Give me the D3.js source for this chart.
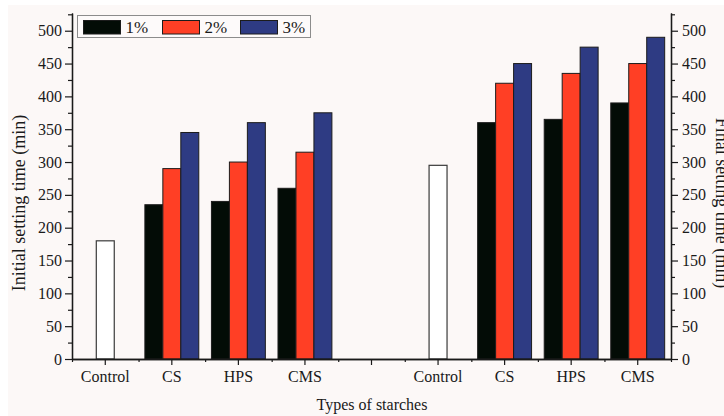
<!DOCTYPE html>
<html>
<head>
<meta charset="utf-8">
<script src="https://cdn.jsdelivr.net/npm/d3@7"></script>
<style>
  html, body { margin: 0; padding: 0; background: #ffffff; }
  svg { display: block; }
</style>
</head>
<body>
<svg id="chart" width="724" height="416"></svg>
<script>
// ---- data ----
const series = ["1%", "2%", "3%"];
const slotLabels = ["Control", "CS", "HPS", "CMS", "", "Control", "CS", "HPS", "CMS"];
const starches = ["CS", "HPS", "CMS"];
const initialControl = 180;
const initial1 = [235, 240, 260];
const initial2 = [290, 300, 315];
const initial3 = [345, 360, 375];
const finalControl = 295;
const final1 = [360, 365, 390];
const final2 = [420, 435, 450];
const final3 = [450, 475, 490];
const yMajorTicks = [0, 50, 100, 150, 200, 250, 300, 350, 400, 450, 500];
const yMinorTicks = [25, 75, 125, 175, 225, 275, 325, 375, 425, 475, 525];
const colors = ["#030c06", "#ff3f25", "#2e3b83"];

// ---- layout ----
const FONT = "'Liberation Serif', 'Times New Roman', serif";
const svg = d3.select("#chart");
const W = 724, H = 416;
const mLeft = 72, mRight = 671, mTop = 13, mBottom = 359;

svg.append("rect").attr("x", 8).attr("y", 5).attr("width", W - 8).attr("height", H - 5)
  .attr("fill", "#fcf8f7");

const x = d3.scaleBand().domain(d3.range(slotLabels.length)).range([mLeft, mRight]).padding(0);
const xEdge = d3.scaleLinear().domain([0, slotLabels.length]).range([mLeft, mRight]);
const yL = d3.scaleLinear().domain([0, 527]).range([mBottom, mTop]);
const yR = d3.scaleLinear().domain([0, 527]).range([mBottom, mTop]);
const barW = x.bandwidth() * 0.27;
const sub = d3.scaleBand().domain(series).range([-1.5 * barW, 1.5 * barW]).padding(0);

const groups = [];
starches.forEach((s, i) => {
  groups.push({ slot: 1 + i, axis: "L", vals: [initial1[i], initial2[i], initial3[i]] });
  groups.push({ slot: 6 + i, axis: "R", vals: [final1[i], final2[i], final3[i]] });
});
const controls = [
  { slot: 0, axis: "L", v: initialControl },
  { slot: 5, axis: "R", v: finalControl }
];

const bars = [];
groups.forEach(g => g.vals.forEach((v, k) => bars.push({ slot: g.slot, axis: g.axis, s: series[k], v, k })));

const barG = svg.append("g");
barG.selectAll("rect.bar").data(bars).enter().append("rect")
  .attr("class", "bar")
  .attr("x", d => x(d.slot) + x.bandwidth() / 2 + sub(d.s))
  .attr("width", sub.bandwidth())
  .attr("y", d => (d.axis === "L" ? yL : yR)(d.v))
  .attr("height", d => mBottom - (d.axis === "L" ? yL : yR)(d.v))
  .attr("fill", d => colors[d.k])
  .attr("stroke", "#1c1c1c").attr("stroke-width", 1);

barG.selectAll("rect.ctrl").data(controls).enter().append("rect")
  .attr("class", "ctrl")
  .attr("x", d => x(d.slot) + x.bandwidth() / 2 - barW / 2)
  .attr("width", barW)
  .attr("y", d => (d.axis === "L" ? yL : yR)(d.v))
  .attr("height", d => mBottom - (d.axis === "L" ? yL : yR)(d.v))
  .attr("fill", "#ffffff")
  .attr("stroke", "#3a3a3a").attr("stroke-width", 1.2);

// ---- axes ----
function styleAxis(g, size) {
  g.attr("font-family", null).attr("font-size", null);
  g.selectAll("path.domain").attr("stroke", "#1a1a1a").attr("stroke-width", 1.3);
  g.selectAll(".tick line").attr("stroke", "#1a1a1a").attr("stroke-width", 1.2);
  g.selectAll("text").attr("fill", "#1a1a1a").style("font-family", FONT).style("font-size", (size || 16) + "px");
}

const gLminor = svg.append("g").attr("transform", `translate(${mLeft},0)`)
  .call(d3.axisLeft(yL).tickValues(yMinorTicks).tickSize(4).tickSizeOuter(0).tickFormat(""));
styleAxis(gLminor);
const gL = svg.append("g").attr("transform", `translate(${mLeft},0)`)
  .call(d3.axisLeft(yL).tickValues(yMajorTicks).tickSize(7).tickSizeOuter(0).tickPadding(3));
styleAxis(gL, 16);

const gRminor = svg.append("g").attr("transform", `translate(${mRight},0)`)
  .call(d3.axisRight(yR).tickValues(yMinorTicks).tickSize(4).tickSizeOuter(0).tickFormat(""));
styleAxis(gRminor);
const gR = svg.append("g").attr("transform", `translate(${mRight},0)`)
  .call(d3.axisRight(yR).tickValues(yMajorTicks).tickSize(7).tickSizeOuter(0).tickPadding(4));
styleAxis(gR, 16);

const gBminor = svg.append("g").attr("transform", `translate(0,${mBottom})`)
  .call(d3.axisBottom(xEdge).tickValues(d3.range(slotLabels.length + 1)).tickSize(3).tickSizeOuter(0).tickFormat(""));
styleAxis(gBminor);
const gB = svg.append("g").attr("transform", `translate(0,${mBottom})`)
  .call(d3.axisBottom(x).tickSize(6).tickSizeOuter(0).tickPadding(6).tickFormat(i => slotLabels[i]));
styleAxis(gB, 16);

// titles
function label(sel, size) {
  return sel.style("font-family", FONT).style("font-size", size + "px").attr("fill", "#1a1a1a");
}
label(svg.append("text").attr("x", 372).attr("y", 410).attr("text-anchor", "middle"), 16)
  .text("Types of starches");
label(svg.append("text").attr("transform", "translate(25,203) rotate(-90)").attr("text-anchor", "middle"), 18)
  .text("Initial setting time (min)");
label(svg.append("text").attr("transform", "translate(716,203) rotate(90)").attr("text-anchor", "middle"), 18)
  .text("Final setting time (min)");

// legend
const lg = svg.append("g");
lg.append("rect").attr("x", 77.5).attr("y", 15.5).attr("width", 233).attr("height", 22)
  .attr("fill", "#fdfafa").attr("stroke", "#8c8c8c").attr("stroke-width", 1);
const legX = [83.5, 162.5, 240.5];
series.forEach((s, k) => {
  lg.append("rect").attr("x", legX[k]).attr("y", 20.5).attr("width", 37).attr("height", 13.5)
    .attr("fill", colors[k]).attr("stroke", "#1c1c1c").attr("stroke-width", 1);
  label(lg.append("text").attr("x", legX[k] + 42).attr("y", 32.5), 17).text(s);
});
</script>
</body>
</html>
